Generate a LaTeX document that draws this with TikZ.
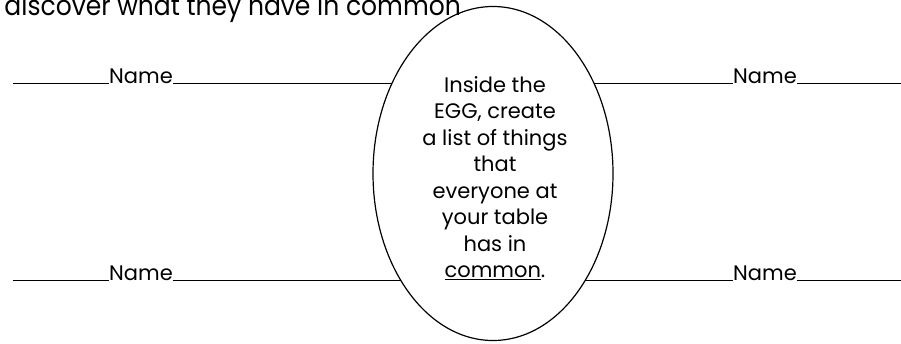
\documentclass[tikz,border=0pt]{standalone}
\usepackage{fontspec}
\setmainfont{Poppins}
\usetikzlibrary{shapes.geometric,positioning,calc}

\begin{document}
\begin{tikzpicture}[x=1pt,y=1pt]
\tikzstyle{egg}=[ellipse,draw=black,line width=1.2pt,
inner sep=0pt,outer sep=0pt,minimum width=240pt,minimum height=334pt]
\tikzstyle{namelabel}=[inner sep=0pt,outer sep=0pt,anchor=base,
font=\fontsize{21}{25}\selectfont]
\tikzstyle{blank}=[line width=0.8pt]
\useasboundingbox (0,0) rectangle (901,-343);

\node[anchor=base east,inner sep=0pt,xscale=0.91,transform shape,
font=\fontsize{27.5}{32}\selectfont] at (461,-15) (title) {discover what they have in common};
\node[egg] at (493,-173.5) (egg) {};
\node[align=center,inner sep=0pt,font=\fontsize{21}{26.5}\selectfont] at (495,-178) (task)
{Inside the\\EGG, create\\a list of things\\that\\everyone at\\your table\\has in\\\underline{common}.};

\node[namelabel] at (141,-83) (nameTL) {Name};
\node[namelabel] at (765,-83) (nameTR) {Name};
\node[namelabel] at (141,-280) (nameBL) {Name};
\node[namelabel] at (765,-280) (nameBR) {Name};
\coordinate (tl) at (13,-83);
\coordinate (tr) at (901,-83);
\coordinate (bl) at (13,-280);
\coordinate (br) at (901,-280);
% where the blanks meet the egg
\coordinate (eggTL) at ($(egg.center)+(-100.8,90.5)$);
\coordinate (eggTR) at ($(egg.center)+(100.8,90.5)$);
\coordinate (eggBL) at ($(egg.center)+(-92.4,-106.5)$);
\coordinate (eggBR) at ($(egg.center)+(92.4,-106.5)$);

\path[blank] (tl) edge (nameTL.base west);
\path[blank] (nameTL.base east) edge (eggTL);
\path[blank] (eggTR) edge (nameTR.base west);
\path[blank] (nameTR.base east) edge (tr);
\path[blank] (bl) edge (nameBL.base west);
\path[blank] (nameBL.base east) edge (eggBL);
\path[blank] (eggBR) edge (nameBR.base west);
\path[blank] (nameBR.base east) edge (br);

\end{tikzpicture}
\end{document}
